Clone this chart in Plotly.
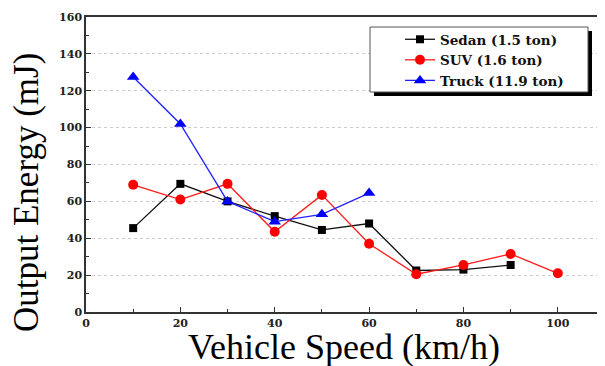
import plotly.graph_objects as go

speed_sedan = [10, 20, 30, 40, 50, 60, 70, 80, 90]
energy_sedan = [45.5, 69.5, 60, 52, 44.5, 48, 22.5, 23, 25.5]
speed_suv = [10, 20, 30, 40, 50, 60, 70, 80, 90, 100]
energy_suv = [69, 61, 69.5, 43.5, 63.5, 37, 20.5, 25.5, 31.5, 21]
speed_truck = [10, 20, 30, 40, 50, 60]
energy_truck = [127.5, 102, 60, 49, 53, 64.5]
names = ["Sedan (1.5 ton)", "SUV (1.6 ton)", "Truck (11.9 ton)"]

# page has an 8px body margin; figure is sized so the plot lands where the reference has it
OFF = 8
W, H = 597, 358
PL, PR, PT, PB = 86, 605, 17, 312  # plot area in page pixels
L, T = PL - OFF, PT - OFF
R = OFF + W - PR
B = OFF + H - PB
pw, ph = PR - PL, PB - PT

def px(x):
    return (x - PL) / pw

def py(y):
    return (PB - y) / ph

fig = go.Figure()
fig.add_trace(go.Scatter(x=speed_sedan, y=energy_sedan, name=names[0], mode="lines+markers",
                         line=dict(color="#111111", width=1.3),
                         marker=dict(symbol="square", size=8, color="#000000")))
fig.add_trace(go.Scatter(x=speed_suv, y=energy_suv, name=names[1], mode="lines+markers",
                         line=dict(color="#ff1a1a", width=1.3),
                         marker=dict(symbol="circle", size=10, color="#ff0000")))
fig.add_trace(go.Scatter(x=speed_truck, y=energy_truck, name=names[2], mode="lines+markers",
                         line=dict(color="#2222ff", width=1.3),
                         marker=dict(symbol="triangle-up", size=11, color="#0000ff")))

tickfont = dict(family="DejaVu Serif", size=11, color="#222222", weight="bold")

fig.update_layout(
    width=W, height=H,
    margin=dict(l=L, r=R, t=T, b=B, pad=0, autoexpand=False),
    paper_bgcolor="white", plot_bgcolor="white",
    showlegend=True,
    legend=dict(x=px(400), y=py(24), xanchor="left", yanchor="top",
                bgcolor="rgba(0,0,0,0)", borderwidth=0,
                font=dict(family="DejaVu Serif", size=13.5, color="#111111", weight="bold"),
                itemwidth=30, tracegroupgap=0),
    xaxis=dict(range=[0, 110], tickvals=[0, 20, 40, 60, 80, 100], ticks="inside", ticklen=5,
               tickwidth=1.3, tickcolor="#333333", showline=True, linecolor="#333333", linewidth=1.5,
               mirror=True, showgrid=False, zeroline=False, tickfont=tickfont,
               minor=dict(dtick=10, ticks="inside", ticklen=3, tickcolor="#333333", showgrid=False)),
    yaxis=dict(range=[0, 160], dtick=20, ticks="inside", ticklen=5, tickwidth=1.3,
               tickcolor="#333333", showline=True, linecolor="#333333", linewidth=1.5,
               mirror=False, showgrid=True, gridcolor="#cccccc", griddash="dot", gridwidth=1,
               zeroline=False, tickfont=tickfont,
               minor=dict(dtick=10, ticks="inside", ticklen=3, tickcolor="#333333", showgrid=False)),
    shapes=[
        # legend box shadow and frame
        dict(type="rect", xref="paper", yref="paper", x0=px(374), x1=px(592), y0=py(96), y1=py(31),
             fillcolor="black", line=dict(width=0), layer="above"),
        dict(type="rect", xref="paper", yref="paper", x0=px(370), x1=px(588), y0=py(92), y1=py(27),
             fillcolor="white", line=dict(width=1, color="#555555"), layer="above"),
    ],
    annotations=[
        dict(text="Output Energy (mJ)", xref="paper", yref="paper", x=px(27), y=py(193),
             xanchor="center", yanchor="middle", textangle=-90, showarrow=False,
             font=dict(family="Liberation Serif", size=35, color="black")),
        dict(text="Vehicle Speed (km/h)", xref="paper", yref="paper", x=px(344), y=py(347),
             xanchor="center", yanchor="middle", showarrow=False,
             font=dict(family="Liberation Serif", size=36, color="black")),
    ],
)

fig.write_html("out.html")
